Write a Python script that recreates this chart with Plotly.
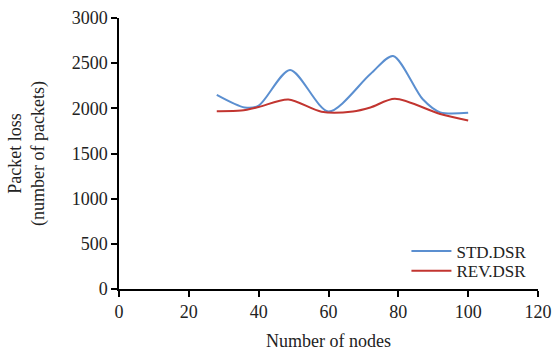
import plotly.graph_objects as go

std_x = [28, 36, 40, 49, 60, 72, 78.5, 87, 92, 100]
std_y = [2150, 2010, 2030, 2425, 1965, 2380, 2580, 2100, 1955, 1950]
rev_x = [28, 35, 40, 48.5, 58, 67, 72, 79, 92, 100]
rev_y = [1968, 1975, 2015, 2098, 1963, 1966, 2010, 2105, 1938, 1865]

x_ticks = [0, 20, 40, 60, 80, 100, 120]
y_ticks = [0, 500, 1000, 1500, 2000, 2500, 3000]

font = "Liberation Serif"
fc = "#222222"
fig = go.Figure()
fig.add_trace(go.Scatter(x=std_x, y=std_y, mode="lines", name="STD.DSR", legend="legend",
                         line=dict(color="#5b8fd0", width=2, shape="spline", smoothing=0.8)))
fig.add_trace(go.Scatter(x=rev_x, y=rev_y, mode="lines", name="REV.DSR", legend="legend2",
                         line=dict(color="#c23530", width=2, shape="spline", smoothing=0.8)))

axis_common = dict(showgrid=False, zeroline=False, showline=True, linecolor="black", linewidth=1.5,
                   ticks="outside", ticklen=6, tickwidth=1.5, tickcolor="black", automargin=False,
                   tickfont=dict(family=font, size=18, color=fc))
fig.update_xaxes(range=[0, 120], tickvals=x_ticks, title=dict(text="Number of nodes",
                 font=dict(family=font, size=18, color=fc), standoff=16), **axis_common)
fig.update_yaxes(range=[0, 3000], tickvals=y_ticks, title=dict(text="Packet loss<br>(number of packets)",
                 font=dict(family=font, size=18, color=fc), standoff=22), **axis_common)

leg_common = dict(xanchor="left", yanchor="middle", bgcolor="rgba(0,0,0,0)",
                  font=dict(family=font, size=17, color=fc), itemwidth=40)
fig.update_layout(
    width=553, height=351,
    margin=dict(l=119, r=15, t=18, b=62),
    plot_bgcolor="white", paper_bgcolor="white",
    font=dict(family=font, size=18, color=fc),
    showlegend=True,
    legend=dict(x=0.686, y=0.139, **leg_common),
    legend2=dict(x=0.686, y=0.066, **leg_common),
)
fig.write_html("out.html")
